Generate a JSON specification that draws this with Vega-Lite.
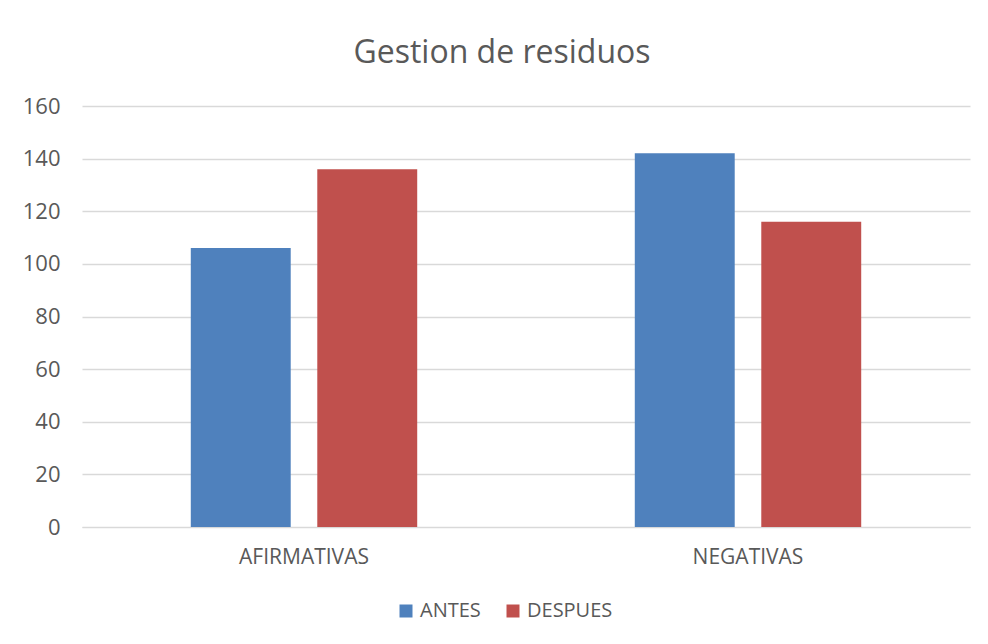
{
  "$schema": "https://vega.github.io/schema/vega-lite/v6.json",
  "autosize": "none",
  "width": 888,
  "height": 421,
  "padding": {"left": 82, "top": 106, "right": 18, "bottom": 117},
  "background": "white",
  "title": {
    "text": "Gestion de residuos",
    "font": "Open Sans",
    "fontSize": 32,
    "fontWeight": "normal",
    "color": "#595959",
    "anchor": "middle",
    "dx": -24,
    "offset": 25
  },
  "data": {
    "values": [
      {"categoria": "AFIRMATIVAS", "serie": "ANTES", "valor": 106},
      {"categoria": "AFIRMATIVAS", "serie": "DESPUES", "valor": 136},
      {"categoria": "NEGATIVAS", "serie": "ANTES", "valor": 142},
      {"categoria": "NEGATIVAS", "serie": "DESPUES", "valor": 116}
    ]
  },
  "mark": {"type": "bar"},
  "encoding": {
    "x": {
      "field": "categoria",
      "type": "nominal",
      "sort": ["AFIRMATIVAS", "NEGATIVAS"],
      "scale": {"paddingInner": 0, "paddingOuter": 0},
      "axis": {
        "title": null,
        "labelAngle": 0,
        "ticks": false,
        "domain": true,
        "domainColor": "#d9d9d9",
        "labelFont": "Open Sans",
        "labelFontSize": 21,
        "labelColor": "#595959",
        "labelPadding": 19
      }
    },
    "xOffset": {
      "field": "serie",
      "type": "nominal",
      "sort": ["ANTES", "DESPUES"],
      "scale": {"paddingInner": 0.21, "paddingOuter": 0.86}
    },
    "y": {
      "field": "valor",
      "type": "quantitative",
      "scale": {"domain": [0, 160]},
      "axis": {
        "title": null,
        "values": [0, 20, 40, 60, 80, 100, 120, 140, 160],
        "ticks": false,
        "domain": false,
        "gridColor": "#d9d9d9",
        "gridWidth": 1.3,
        "labelFont": "Open Sans",
        "labelFontSize": 22,
        "labelColor": "#595959",
        "labelPadding": 22
      }
    },
    "color": {
      "field": "serie",
      "type": "nominal",
      "sort": ["ANTES", "DESPUES"],
      "scale": {"domain": ["ANTES", "DESPUES"], "range": ["#4F81BD", "#C0504D"]},
      "legend": {
        "title": null,
        "orient": "none",
        "legendX": 314,
        "legendY": 495,
        "direction": "horizontal",
        "symbolType": "square",
        "symbolSize": 169,
        "symbolStrokeWidth": 0,
        "labelFont": "Open Sans",
        "labelFontSize": 20,
        "labelColor": "#595959",
        "labelOffset": 4,
        "columnPadding": 22
      }
    }
  },
  "config": {
    "view": {"stroke": null},
    "axis": {"gridColor": "#d9d9d9"}
  }
}
